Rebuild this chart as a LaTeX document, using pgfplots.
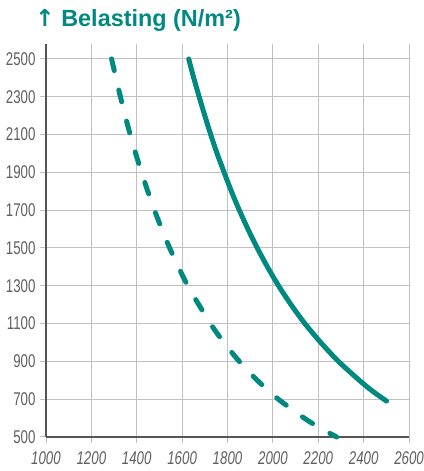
\documentclass[border=0pt]{standalone}
\usepackage{pgfplots}
\pgfplotsset{compat=1.18}
\usepackage{fontspec}
\setmainfont{Liberation Sans}
\newfontfamily\tickfont{Liberation Sans}[FakeStretch=0.72]
\newfontfamily\arrowfont{DejaVu Sans}
\definecolor{teal1}{RGB}{0,137,128}
\definecolor{gridgray}{RGB}{192,192,192}
\definecolor{spine}{RGB}{85,85,85}
\definecolor{lblgray}{RGB}{95,95,95}
\begin{document}
\begin{tikzpicture}[x=1bp,y=1bp]
\useasboundingbox (0,0) rectangle (423,471);
\begin{axis}[
  at={(46bp,34bp)}, anchor=south west,
  scale only axis, width=363bp, height=393bp,
  xmin=1000, xmax=2600, ymin=500, ymax=2579,
  axis x line*=bottom, axis y line*=left,
  axis line style={spine, line width=1.3bp, -},
  xtick={1000,1200,1400,1600,1800,2000,2200,2400,2600},
  ytick={500,700,900,1100,1300,1500,1700,1900,2100,2300,2500},
  xticklabels={1000,1200,1400,1600,1800,2000,2200,2400,2600},
  yticklabels={500,700,900,1100,1300,1500,1700,1900,2100,2300,2500},
  grid=major, major grid style={gridgray, line width=1bp},
  tick align=outside, major tick length=6bp,
  tick style={gridgray, line width=1bp},
  xticklabel style={font=\tickfont\itshape\fontsize{18.5}{19}\selectfont, text=lblgray, anchor=north, yshift=-5bp},
  yticklabel style={font=\tickfont\fontsize{18.5}{19}\selectfont, text=lblgray, anchor=east, xshift=-1bp},
  clip=false,
]
\addplot[teal1, line width=5bp, line cap=round, smooth] coordinates {
 (1629,2500) (1651,2400) (1675,2300) (1700,2200) (1726,2100) (1754,2000)
 (1785,1900) (1817,1800) (1852,1700) (1890,1600) (1931,1500) (1976,1400)
 (2025,1300) (2080,1200) (2141,1100) (2211,1000) (2289,900) (2381,800)
 (2442,740) (2501,690)
};
\addplot[teal1, line width=5bp, line cap=round, dash pattern=on 12bp off 20bp, smooth] coordinates {
 (1289,2500) (1328,2300) (1371,2100) (1421,1900) (1478,1700) (1545,1500)
 (1625,1300) (1725,1100) (1784,1000) (1852,900) (1931,800) (2024,700)
 (2138,600) (2205,550) (2281,500)
};
\end{axis}
\node[anchor=base west, inner sep=0, text=teal1, font=\bfseries\fontsize{23.5}{25}\selectfont] at (35,444) {{\arrowfont ↑} Belasting (N/m²)};
\end{tikzpicture}
\end{document}
